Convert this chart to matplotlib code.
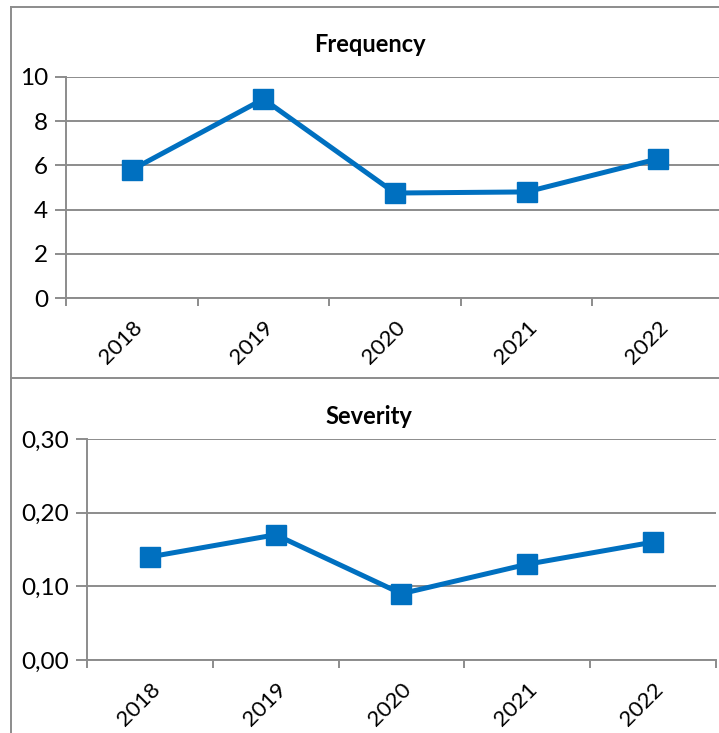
import numpy as np
import matplotlib.pyplot as plt
from matplotlib.lines import Line2D
from matplotlib.ticker import FuncFormatter

plt.rcParams['font.family'] = ['Lato', 'DejaVu Sans']

years = ['2018', '2019', '2020', '2021', '2022']
frequency = [5.8, 9.0, 4.75, 4.8, 6.3]
severity = [0.14, 0.17, 0.09, 0.13, 0.16]

blue = '#0070C0'
grid_gray = '#8C8C8C'

fig = plt.figure(figsize=(7.19, 7.33), dpi=100)


def draw_panel(ax, values, ymax, step, fmt):
    x = np.arange(len(values))
    ax.plot(x, values, color=blue, lw=3.6, marker='s', ms=14.5,
            mfc=blue, mec=blue, solid_joinstyle='miter', zorder=3)
    ax.set_xlim(-0.5, len(values) - 0.5)
    ax.set_ylim(0, ymax)
    ax.set_yticks(np.arange(0, ymax + step / 2, step))
    ax.yaxis.set_major_formatter(FuncFormatter(fmt))
    ax.grid(axis='y', color=grid_gray, lw=1.4)
    ax.set_axisbelow(True)
    # category boundaries carry tick marks, labels sit at the centres
    ax.set_xticks(np.arange(len(values) + 1) - 0.5)
    ax.set_xticklabels([])
    ax.set_xticks(x, minor=True)
    ax.set_xticklabels(years, minor=True, rotation=45, ha='right',
                       va='top', rotation_mode='anchor')
    ax.tick_params(axis='x', which='minor', length=0, pad=14, labelsize=16)
    ax.tick_params(axis='x', which='major', length=6, color=grid_gray, width=1.4)
    ax.tick_params(axis='y', length=8, color=grid_gray, width=1.4,
                   labelsize=17.5, pad=5)
    for s in ['top', 'right']:
        ax.spines[s].set_visible(False)
    for s in ['left', 'bottom']:
        ax.spines[s].set_color(grid_gray)
        ax.spines[s].set_linewidth(1.4)


ax1 = fig.add_axes([0.0918, 0.5934, 0.9152, 0.3016])
draw_panel(ax1, frequency, 10, 2, lambda v, p: f'{v:.0f}')

ax2 = fig.add_axes([0.121, 0.0996, 0.8748, 0.3015])
draw_panel(ax2, severity, 0.30, 0.10,
           lambda v, p: f'{v:.2f}'.replace('.', ','))

fig.text(370 / 719, 1 - 44 / 733, 'Frequency', ha='center', va='center',
         fontsize=17, fontweight='bold')
fig.text(369 / 719, 1 - 417 / 733, 'Severity', ha='center', va='center',
         fontsize=17, fontweight='bold')

# chart frames
frame_kw = dict(color='#8C8C8C', lw=1.4, transform=fig.transFigure)
fig.add_artist(Line2D([11 / 719, 11 / 719], [0, 1 - 7 / 733], **frame_kw))
fig.add_artist(Line2D([11 / 719, 1], [1 - 7 / 733, 1 - 7 / 733], **frame_kw))
fig.add_artist(Line2D([11 / 719, 1], [1 - 378 / 733, 1 - 378 / 733], **frame_kw))

fig.savefig('out.png', dpi=100, facecolor='white')
